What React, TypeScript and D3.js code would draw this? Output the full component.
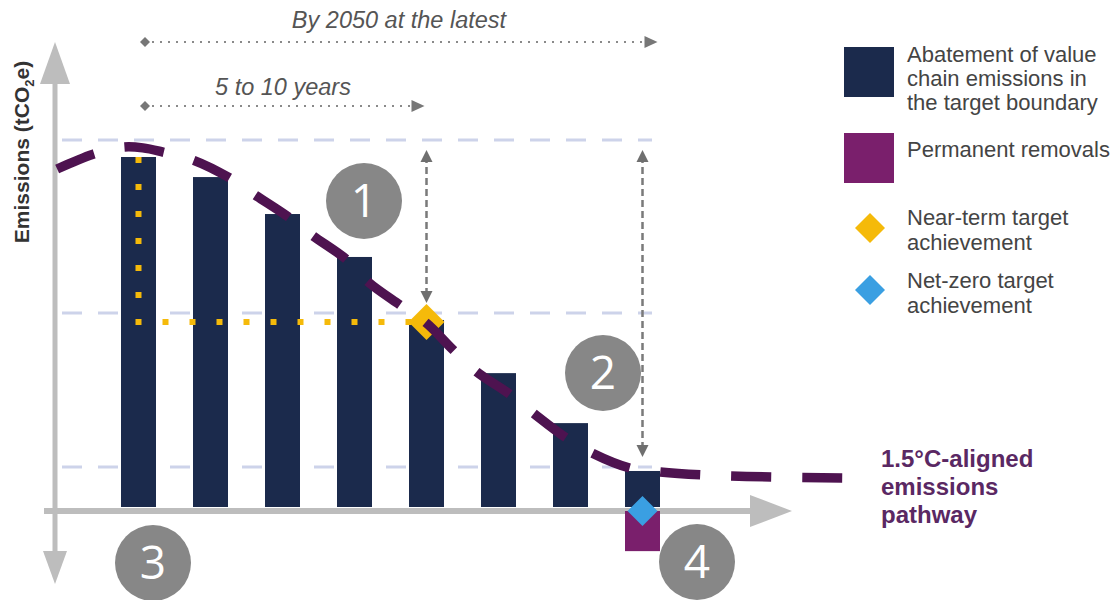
import React from "react";
import * as d3 from "d3";

// ---- Data ----
const periods = ["P0", "P1", "P2", "P3", "P4", "P5", "P6", "P7"];
const abatement = [100, 94.3, 83.8, 71.6, 53.7, 38.6, 24.4, 10.8];
const removals = [0, 0, 0, 0, 0, 0, 0, -11.4];
const pathwayT = [-1.13, -0.63, -0.22, 0.06, 0.34, 0.76, 1.27, 1.62, 2.08, 2.41, 2.9, 3.19, 3.63, 4.0, 4.37, 4.7, 5.13, 5.48, 5.92, 6.3, 6.83, 7.24, 7.8, 8.8, 9.78];
const pathwayV = [96.6, 100.8, 102.8, 102.6, 101.4, 99.1, 94.0, 89.2, 83.0, 77.8, 70.7, 64.5, 58.0, 52.8, 45.2, 38.9, 33.0, 27.3, 20.5, 15.9, 11.6, 10.5, 9.7, 9.1, 8.8];
const gridLevels = [104.8, 55.7, 11.9];
const nearTermT = 4;
const nearTermV = 53.1;
const netZeroT = 7;
const baseT = 0;
const legendLabels = [
  ["Abatement of value", "chain emissions in", "the target boundary"],
  ["Permanent removals"],
  ["Near-term target", "achievement"],
  ["Net-zero target", "achievement"],
];
const pathwayLabel = ["1.5°C-aligned", "emissions", "pathway"];
const spanLabels = ["By 2050 at the latest", "5 to 10 years"];
const stepNumbers = ["1", "2", "3", "4"];

// ---- Styles ----
const NAVY = "#1b2a4c";
const PURPLE_BAR = "#7a1f6c";
const PATH = "#4e1350";
const GOLD = "#f5ba0a";
const BLUE = "#3a9fe2";
const AXIS = "#bdbdbd";
const GRID = "#cdd3ea";
const GREYTXT = "#444";

export default function App() {
  const W = 1118, H = 600;
  const x = d3.scaleLinear().domain([0, 7]).range([138.5, 642.5]);
  const y = d3.scaleLinear().domain([0, 100]).range([509, 157]);
  const barW = 35;
  const line = d3
    .line<number>()
    .x((_, i) => x(pathwayT[i]))
    .y((_, i) => y(pathwayV[i]))
    .curve(d3.curveCatmullRom.alpha(0.5));
  const pathD = line(pathwayT) || "";

  const diamond = (cx: number, cy: number, r: number) =>
    `M${cx},${cy - r}L${cx + r},${cy}L${cx},${cy + r}L${cx - r},${cy}Z`;

  const axisY = 511;
  const axisX = 55;
  const font = "'Liberation Sans', Arial, sans-serif";

  const circles = [
    { n: stepNumbers[0], cx: 364, cy: 201 },
    { n: stepNumbers[1], cx: 603, cy: 373 },
    { n: stepNumbers[2], cx: 153, cy: 563 },
    { n: stepNumbers[3], cx: 697, cy: 562 },
  ];

  const nx = x(nearTermT);
  const zx = x(netZeroT);
  const ny = y(nearTermV);

  const legendY = [
    { sy: 47, lines: [62, 86, 110] },
    { sy: 133, lines: [157] },
    { sy: 228, lines: [225, 250] },
    { sy: 290, lines: [288, 313] },
  ];

  return (
    <svg
      width={W}
      height={H}
      style={{ position: "absolute", left: 0, top: 0, background: "#fff" }}
      fontFamily={font}
    >
      {/* grid lines */}
      {gridLevels.map((g, i) => (
        <line
          key={i}
          x1={62}
          x2={652}
          y1={y(g)}
          y2={y(g)}
          stroke={GRID}
          strokeWidth={3}
          strokeDasharray="20 16"
        />
      ))}

      {/* bars */}
      {periods.map((p, i) => (
        <rect
          key={p}
          x={x(i) - barW / 2}
          y={y(abatement[i])}
          width={barW}
          height={507 - y(abatement[i])}
          fill={NAVY}
        />
      ))}

      {/* yellow dotted baseline->near-term */}
      <line
        x1={x(baseT)}
        x2={x(baseT)}
        y1={ny - 165}
        y2={ny + 3}
        stroke={GOLD}
        strokeWidth={6}
        strokeDasharray="6 21"
      />
      <line
        x1={x(baseT) + 24}
        x2={nx - 10}
        y1={ny}
        y2={ny}
        stroke={GOLD}
        strokeWidth={6}
        strokeDasharray="6 21"
      />

      {/* axes */}
      <line x1={axisX} x2={axisX} y1={80} y2={555} stroke={AXIS} strokeWidth={5} />
      <path d={`M${axisX},42L${axisX + 15},84L${axisX - 15},84Z`} fill={AXIS} />
      <path d={`M${axisX},584L${axisX + 12},551L${axisX - 12},551Z`} fill={AXIS} />
      <line x1={44} x2={755} y1={axisY} y2={axisY} stroke={AXIS} strokeWidth={6} />
      <path d={`M792,${axisY}L750,${axisY - 16}L750,${axisY + 16}Z`} fill={AXIS} />

      {/* removals */}
      {periods.map((p, i) =>
        removals[i] < 0 ? (
          <rect
            key={"r" + p}
            x={x(i) - barW / 2}
            y={y(0) + 2}
            width={barW}
            height={y(removals[i]) - y(0)}
            fill={PURPLE_BAR}
          />
        ) : null
      )}

      {/* near-term diamond */}
      <path d={diamond(nx, ny, 18)} fill={GOLD} />

      {/* pathway */}
      <path d={pathD} fill="none" stroke={PATH} strokeWidth={9.5} strokeDasharray="40 31" />

      {/* net-zero diamond */}
      <path d={diamond(zx, axisY, 15)} fill={BLUE} />

      {/* gray dashed double arrows */}
      {[
        { cx: nx, y1: y(gridLevels[0]), y2: y(gridLevels[1]) },
        { cx: zx, y1: y(gridLevels[0]), y2: y(gridLevels[2]) },
      ].map((a, i) => (
        <g key={i}>
          <line
            x1={a.cx}
            x2={a.cx}
            y1={a.y1 + 16}
            y2={a.y2 - 16}
            stroke="#7a7a7a"
            strokeWidth={2.5}
            strokeDasharray="7 4"
          />
          <path d={`M${a.cx},${a.y1 + 10}L${a.cx + 6},${a.y1 + 22}L${a.cx - 6},${a.y1 + 22}Z`} fill="#6f6f6f" />
          <path d={`M${a.cx},${a.y2 - 10}L${a.cx + 6},${a.y2 - 22}L${a.cx - 6},${a.y2 - 22}Z`} fill="#6f6f6f" />
        </g>
      ))}

      {/* top span arrows */}
      {[
        { yy: 42, x2: x(netZeroT) + 15, label: spanLabels[0], tx: 399, ty: 28 },
        { yy: 106, x2: nx - 2, label: spanLabels[1], tx: 283, ty: 95 },
      ].map((s, i) => (
        <g key={i}>
          <path d={diamond(145, s.yy, 5)} fill="#777" />
          <line
            x1={152}
            x2={s.x2 - 12}
            y1={s.yy}
            y2={s.yy}
            stroke="#8a8a8a"
            strokeWidth={2}
            strokeDasharray="2 6"
          />
          <path d={`M${s.x2},${s.yy}L${s.x2 - 13},${s.yy - 6}L${s.x2 - 13},${s.yy + 6}Z`} fill="#777" />
          <text
            x={s.tx}
            y={s.ty}
            textAnchor="middle"
            fontSize={23.5}
            fontStyle="italic"
            fill="#555"
          >
            {s.label}
          </text>
        </g>
      ))}

      {/* y label */}
      <text
        transform="translate(29,152) rotate(-90)"
        textAnchor="middle"
        fontSize={21}
        fontWeight="bold"
        fill="#333"
      >
        Emissions (tCO
        <tspan fontSize={13} dy={5}>2</tspan>
        <tspan dy={-5}>e)</tspan>
      </text>

      {/* step circles */}
      {circles.map((c) => (
        <g key={c.n}>
          <circle cx={c.cx} cy={c.cy} r={38} fill="#878787" />
          <text
            x={c.cx}
            y={c.cy + 16}
            textAnchor="middle"
            fontSize={46}
            fontFamily="'Open Sans', sans-serif"
            fill="#fff"
          >
            {c.n}
          </text>
        </g>
      ))}

      {/* legend */}
      <rect x={844} y={legendY[0].sy} width={50} height={50} fill={NAVY} />
      <rect x={844} y={legendY[1].sy} width={50} height={50} fill={PURPLE_BAR} />
      <path d={diamond(870, legendY[2].sy, 15)} fill={GOLD} />
      <path d={diamond(870, legendY[3].sy, 15)} fill={BLUE} />
      {legendLabels.map((lines, i) =>
        lines.map((t, j) => (
          <text key={i + "-" + j} x={907} y={legendY[i].lines[j]} fontSize={22} fill={GREYTXT}>
            {t}
          </text>
        ))
      )}

      {/* pathway label */}
      {pathwayLabel.map((t, j) => (
        <text key={t} x={881} y={467 + j * 28} fontSize={24} fontWeight="bold" fill="#5a2863">
          {t}
        </text>
      ))}
    </svg>
  );
}
